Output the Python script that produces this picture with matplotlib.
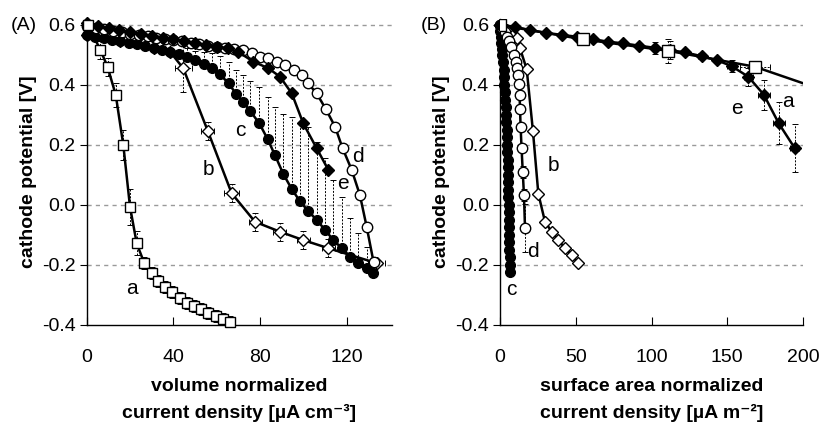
import numpy as np
import matplotlib.pyplot as plt
from matplotlib.ticker import FormatStrFormatter

plt.rcParams['font.family'] = ['Liberation Sans', 'DejaVu Sans']
plt.rcParams['axes.unicode_minus'] = False

# ---- panel A: volume normalized current density [uA cm-3] ----
a_vx = [0.5, 6.2, 9.5, 13.3, 16.8, 19.9, 23.0, 26.5, 29.9, 33.0, 36.1, 39.5, 43.0, 46.1, 49.5, 52.7, 56.1, 59.5, 63.0, 66.1]
a_vy = [0.60, 0.517, 0.461, 0.367, 0.20, -0.006, -0.128, -0.194, -0.228, -0.253, -0.272, -0.291, -0.311, -0.326, -0.336, -0.348, -0.359, -0.370, -0.381, -0.389]
a_vxerr = [0, 1.5, 1.5, 1.8, 2.0, 1.8, 1.5, 1.5, 1.5, 1.5, 1.5, 1.5, 1.5, 1.5, 1.5, 1.5, 1.5, 1.5, 1.5, 1.5]
a_vyerr = [0, 0.03, 0.03, 0.04, 0.05, 0.06, 0.04, 0.02, 0.02, 0.02, 0.02, 0.02, 0.02, 0.02, 0.02, 0.02, 0.02, 0.02, 0.02, 0.02]

b_vx = [0.0, 15.4, 30.8, 38.5, 44.5, 55.8, 66.9, 77.7, 89.2, 100.0, 111.6, 134.0]
b_vy = [0.565, 0.545, 0.524, 0.51, 0.456, 0.248, 0.039, -0.056, -0.089, -0.117, -0.144, -0.194]
b_vxerr = [0, 0, 0, 0, 4.0, 3.0, 3.5, 3.0, 3.0, 3.0, 3.0, 4.0]
b_vyerr = [0, 0, 0, 0, 0.08, 0.03, 0.03, 0.03, 0.03, 0.03, 0.03, 0.0]

c_vx = [0.0, 3.9, 7.7, 11.6, 15.4, 19.3, 23.1, 27.0, 30.8, 34.7, 38.5, 42.4, 46.2, 50.1, 53.9, 57.8, 61.6, 65.5, 69.0,
        72.3, 75.4, 79.7, 83.5, 87.0, 90.8, 94.7, 98.5, 102.3, 106.2, 110.1, 113.9, 117.8, 121.6, 125.5, 129.3, 132.4]
c_vy = [0.565, 0.56, 0.555, 0.55, 0.545, 0.54, 0.535, 0.53, 0.524, 0.517, 0.51, 0.502, 0.492, 0.482, 0.47, 0.457, 0.435, 0.405, 0.37,
        0.343, 0.314, 0.272, 0.22, 0.165, 0.103, 0.053, 0.012, -0.02, -0.05, -0.083, -0.117, -0.144, -0.172, -0.194, -0.211, -0.226]
c_vyup = [0, 0, 0, 0, 0, 0, 0, 0, 0, 0, 0, 0, 0.03, 0.03, 0.04, 0.05, 0.06, 0.07, 0.08,
          0.09, 0.10, 0.12, 0.14, 0.16, 0.20, 0.24, 0.26, 0.28, 0.26, 0.24, 0.20, 0.17, 0.13, 0.10, 0.07, 0.03]

d_vx = [0, 4, 8, 12, 16, 20, 24, 28, 32, 36, 40, 44, 48, 52, 56, 60, 64, 68, 72.3, 76.2, 80.0, 83.8, 87.7, 91.6, 95.5,
        99.3, 102.3, 106.2, 110.5, 114.7, 118.2, 122.4, 126.2, 129.3, 132.5]
d_vy = [0.595, 0.59, 0.585, 0.58, 0.575, 0.57, 0.566, 0.562, 0.557, 0.553, 0.549, 0.545, 0.54, 0.535, 0.53, 0.527, 0.524, 0.52, 0.517, 0.506, 0.494, 0.489, 0.478, 0.467, 0.45,
        0.433, 0.405, 0.372, 0.319, 0.261, 0.189, 0.117, 0.033, -0.072, -0.19]

e_vx = [0, 5, 10, 15, 20, 25, 30, 35, 40, 45, 50, 55, 60, 65, 70, 76.9, 83.8, 89.2, 94.7, 100.0, 106.2, 111.6]
e_vy = [0.605, 0.597, 0.59, 0.583, 0.576, 0.57, 0.564, 0.558, 0.552, 0.546, 0.54, 0.534, 0.528, 0.522, 0.51, 0.478, 0.456, 0.428, 0.372, 0.272, 0.189, 0.117]

# ---- panel B: surface area normalized current density [uA m-2] ----
a_sx = [0.0, 55.0, 111.0, 168.2, 203.4]
a_sy = [0.60, 0.552, 0.514, 0.461, 0.40]
a_sxerr = [0, 0, 3, 10, 0]
a_syerr = [0, 0.01, 0.04, 0.015, 0]

b_sx = [0.0, 4.4, 8.8, 11.0, 13.2, 17.6, 21.7, 25.3, 29.7, 34.1, 38.5, 42.9, 47.3, 51.7]
b_sy = [0.60, 0.583, 0.565, 0.556, 0.522, 0.453, 0.248, 0.037, -0.056, -0.089, -0.117, -0.144, -0.167, -0.194]

c_sx = [0.0, 0.3, 0.6, 0.9, 1.2, 1.5, 1.9, 2.3, 2.6, 2.9, 3.1, 3.4, 3.7, 3.9, 4.1, 4.3, 4.5, 4.7, 4.8,
        5.0, 5.1, 5.2, 5.3, 5.4, 5.5, 5.6, 5.7, 5.8, 5.9, 6.0, 6.1, 6.2, 6.3, 6.4, 6.6]
c_sy = [0.60, 0.58, 0.56, 0.54, 0.52, 0.50, 0.475, 0.45, 0.425, 0.40, 0.375, 0.35, 0.325, 0.30, 0.275, 0.25, 0.225, 0.20, 0.175,
        0.15, 0.125, 0.10, 0.075, 0.05, 0.025, 0.0, -0.025, -0.05, -0.075, -0.10, -0.125, -0.15, -0.175, -0.20, -0.225]

d_sx = [0.0, 1.5, 3.0, 4.5, 6.0, 7.5, 9.0, 10.5, 11.5, 12.1, 12.6, 12.9, 13.2, 13.6, 14.2, 15.0, 15.8, 16.5]
d_sy = [0.60, 0.59, 0.575, 0.56, 0.545, 0.525, 0.50, 0.475, 0.455, 0.433, 0.403, 0.367, 0.319, 0.259, 0.191, 0.111, 0.033, -0.078]
d_syerr = [0, 0, 0, 0, 0, 0, 0, 0, 0, 0, 0, 0, 0, 0, 0, 0.02, 0.02, 0.08]

e_sx = [0.0, 9.9, 19.8, 30.3, 40.7, 50.6, 61.5, 71.4, 81.3, 91.7, 102.2, 112.0, 122.0, 133.0, 143.0, 152.8, 163.8, 174.1, 184.0, 194.6]
e_sy = [0.60, 0.594, 0.583, 0.574, 0.567, 0.561, 0.553, 0.544, 0.539, 0.531, 0.524, 0.516, 0.509, 0.496, 0.483, 0.463, 0.428, 0.368, 0.272, 0.189]
e_sxerr = [0, 2, 2, 2, 2, 2, 2, 2, 2, 2, 2, 2, 2, 2, 2, 3, 3, 4, 4, 3]
e_syerr = [0, 0.01, 0.01, 0.01, 0.01, 0.01, 0.01, 0.01, 0.01, 0.01, 0.02, 0.03, 0.01, 0.01, 0.01, 0.02, 0.03, 0.05, 0.07, 0.08]

fig = plt.figure(figsize=(8.22, 4.25), dpi=100)
axA = fig.add_axes([0.1058, 0.2353, 0.371, 0.72])
axB = fig.add_axes([0.6083, 0.2353, 0.3686, 0.72])

ebkw = dict(fmt='none', ecolor='black', elinewidth=0.7, capsize=2, capthick=0.7, zorder=2)


def dash_err(eb):
    for coll in eb[2]:
        coll.set_linestyle((0, (2, 1.5)))


def series(ax, x, y, marker, face, ms, z, **kw):
    ax.plot(x, y, '-', color='black', lw=1.8, marker=marker, ms=ms, mfc=face, mec='black',
            mew=1.0, zorder=z, clip_on=False, **kw)


# panel A
dash_err(axA.errorbar(a_vx, a_vy, xerr=a_vxerr, yerr=a_vyerr, **ebkw))
dash_err(axA.errorbar(b_vx, b_vy, xerr=b_vxerr, yerr=b_vyerr, **ebkw))
dash_err(axA.errorbar(c_vx, c_vy, yerr=[np.zeros(len(c_vx)), c_vyup], **ebkw))
series(axA, b_vx, b_vy, 'D', 'white', 6, 3)
series(axA, c_vx, c_vy, 'o', 'black', 7, 4)
series(axA, d_vx, d_vy, 'o', 'white', 7.5, 5)
series(axA, e_vx, e_vy, 'D', 'black', 6, 6)
series(axA, a_vx, a_vy, 's', 'white', 7.5, 7)
axA.set_xlim(0, 141)
axA.set_xticks([0, 40, 80, 120])

# panel B
dash_err(axB.errorbar(a_sx[:4], a_sy[:4], xerr=a_sxerr[:4], yerr=a_syerr[:4], **ebkw))
dash_err(axB.errorbar(d_sx, d_sy, yerr=d_syerr, **ebkw))
dash_err(axB.errorbar(e_sx, e_sy, xerr=e_sxerr, yerr=e_syerr, **ebkw))
series(axB, c_sx, c_sy, 'o', 'black', 7, 4)
series(axB, b_sx, b_sy, 'D', 'white', 6, 3)
series(axB, d_sx, d_sy, 'o', 'white', 7.5, 5)
series(axB, e_sx, e_sy, 'D', 'black', 6, 6)
axB.plot(a_sx, a_sy, '-', color='black', lw=1.8, marker='s', ms=8, mfc='white', mec='black',
         mew=1.0, zorder=7, markevery=[0, 1, 2, 3])
axB.set_xlim(0, 200)
axB.set_xticks([0, 50, 100, 150, 200])

for ax in (axA, axB):
    ax.set_ylim(-0.4, 0.62)
    ax.set_yticks([-0.4, -0.2, 0.0, 0.2, 0.4, 0.6])
    ax.yaxis.set_major_formatter(FormatStrFormatter('%.1f'))
    for g in [-0.2, 0.0, 0.2, 0.4, 0.6]:
        ax.axhline(g, color='#9a9a9a', lw=1.0, ls=(0, (3, 3)), zorder=1)
    ax.spines['top'].set_visible(False)
    ax.spines['right'].set_visible(False)
    ax.spines['left'].set_linewidth(1.0)
    ax.spines['bottom'].set_linewidth(1.0)
    ax.tick_params(axis='y', direction='out', length=5, labelsize=14, pad=3)
    ax.tick_params(axis='x', direction='in', length=6, labelsize=14, pad=17)
    ax.set_ylabel('cathode potential [V]', fontsize=14, fontweight='bold', labelpad=4)

axA.set_xlabel('volume normalized\ncurrent density [µA cm⁻³]', fontsize=14, fontweight='bold',
               linespacing=1.6, labelpad=9)
axB.set_xlabel('surface area normalized\ncurrent density [µA m⁻²]', fontsize=14, fontweight='bold',
               linespacing=1.6, labelpad=9)

lkw = dict(fontsize=15, ha='center', va='center', zorder=10)
axA.text(20.7, -0.278, 'a', **lkw)
axA.text(56.1, 0.119, 'b', **lkw)
axA.text(70.8, 0.248, 'c', **lkw)
axA.text(125.5, 0.161, 'd', **lkw)
axA.text(118.5, 0.072, 'e', **lkw)
axB.text(190.2, 0.344, 'a', **lkw)
axB.text(156.1, 0.322, 'e', **lkw)
axB.text(35.2, 0.133, 'b', **lkw)
axB.text(22.0, -0.156, 'd', **lkw)
axB.text(7.7, -0.283, 'c', **lkw)

fig.text(11 / 822, 1 - 25 / 425, '(A)', fontsize=14, ha='left', va='center')
fig.text(421 / 822, 1 - 25 / 425, '(B)', fontsize=14, ha='left', va='center')

fig.savefig('out.png', dpi=100)
